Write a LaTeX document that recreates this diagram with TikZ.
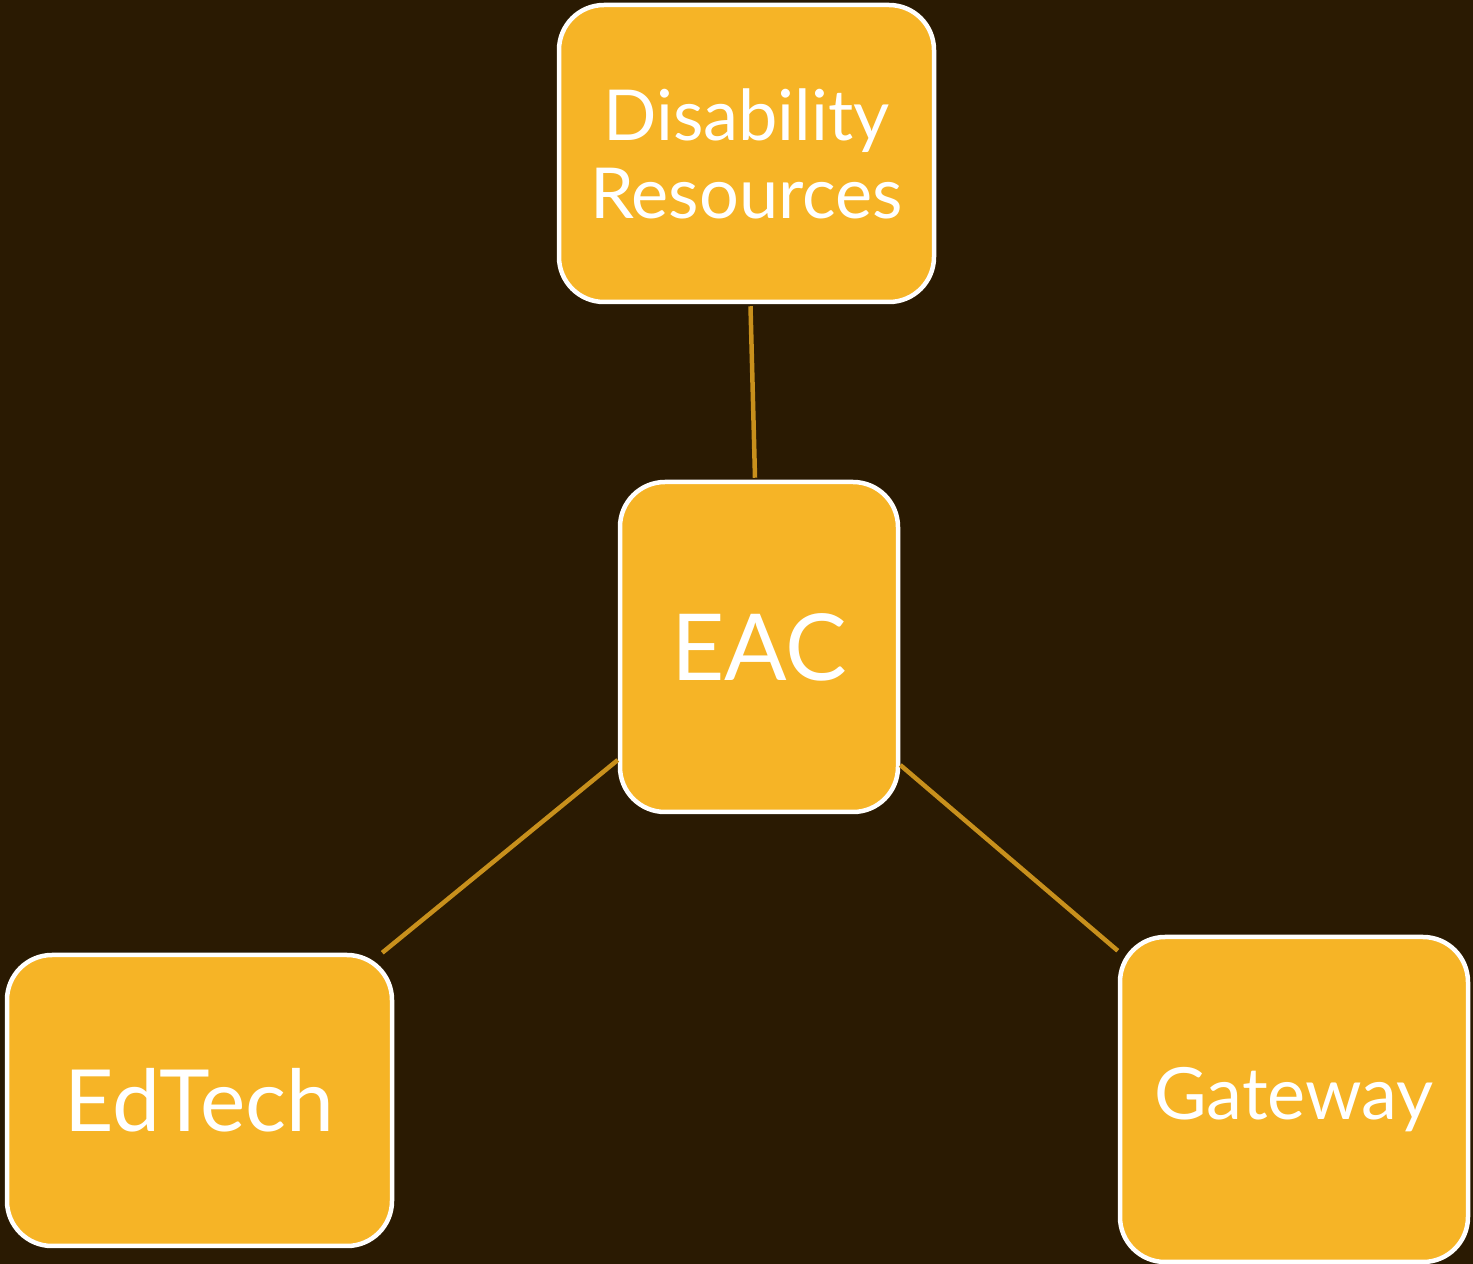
\documentclass[tikz,border=0pt]{standalone}
\usepackage{fontspec}
\setmainfont{Lato}
\usetikzlibrary{calc}
\definecolor{bg}{HTML}{2A1A02}
\definecolor{boxfill}{HTML}{F6B426}
\definecolor{linkc}{HTML}{C8901C}
\tikzset{
  box/.style={draw=white, line width=0.45mm, fill=boxfill, rounded corners=4.5mm,
    text=white, align=center, inner sep=0pt},
  link/.style={draw=linkc, line width=0.45mm}
}
\begin{document}
\begin{tikzpicture}[x=0.1mm,y=-0.1mm]
\fill[bg] (0,0) rectangle (1473,1264);
\useasboundingbox (0,0) rectangle (1473,1264);
\node[box, minimum width=37.5mm, minimum height=29.7mm, font=\fontsize{20}{22.2}\selectfont] (dr) at (746.5,153.5) {Disability\\Resources};
\node[box, minimum width=27.8mm, minimum height=33mm, font=\fontsize{26.3}{28}\selectfont] (eac) at (759,647) {EAC};
\node[box, minimum width=38.5mm, minimum height=29.1mm, font=\fontsize{24.4}{26}\selectfont] (ed) at (199.5,1100.5) {EdTech};
\node[box, minimum width=34.8mm, minimum height=32.5mm, font=\fontsize{20.5}{22}\selectfont] (gw) at (1294,1099.5) {Gateway};
\draw[link] ($(dr.south)+(4,2)$) -- ($(eac.north)+(-4,-2)$);
\draw[link] ($(eac.west)+(0,113)$) -- ($(ed.north east)+(-12,0)$);
\draw[link] ($(eac.east)+(0,118)$) -- ($(gw.north west)+(0,16)$);
\end{tikzpicture}
\end{document}
